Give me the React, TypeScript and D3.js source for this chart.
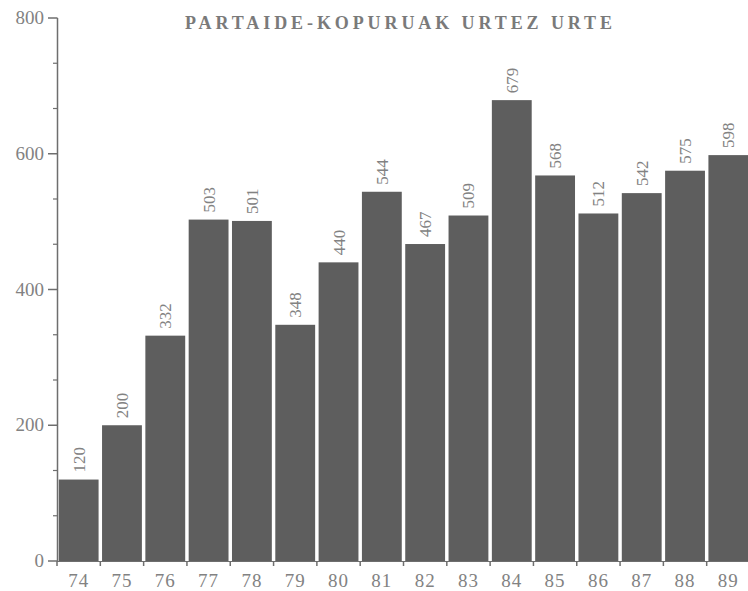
import React, { useEffect, useRef } from "react";
import * as d3 from "d3";

const years = ["74", "75", "76", "77", "78", "79", "80", "81", "82", "83", "84", "85", "86", "87", "88", "89"];
const members = [120, 200, 332, 503, 501, 348, 440, 544, 467, 509, 679, 568, 512, 542, 575, 598];
const yTicks = [0, 200, 400, 600, 800];
const title = "PARTAIDE-KOPURUAK URTEZ URTE";

const W = 748;
const H = 591;

const App: React.FC = () => {
  const svgRef = useRef<SVGSVGElement>(null);

  useEffect(() => {
    if (!svgRef.current) return;
    const svg = d3.select(svgRef.current);
    svg.selectAll("*").remove();

    const font = "'Liberation Serif', 'Times New Roman', serif";
    const textColor = "#828282";
    const axisColor = "#6e6e6e";
    const barColor = "#5e5e5e";

    const x = d3
      .scaleBand<string>()
      .domain(years)
      .range([57, 750])
      .paddingInner(0.08)
      .paddingOuter(0.04);

    const y = d3.scaleLinear().domain([0, 800]).range([561, 18]);

    // bars
    svg
      .append("g")
      .selectAll("rect")
      .data(years)
      .enter()
      .append("rect")
      .attr("x", (d) => x(d) ?? 0)
      .attr("y", (_d, i) => y(members[i]))
      .attr("width", x.bandwidth())
      .attr("height", (_d, i) => y(0) - y(members[i]))
      .attr("fill", barColor);

    // value labels, rotated
    svg
      .append("g")
      .selectAll("text")
      .data(years)
      .enter()
      .append("text")
      .attr("transform", (d, i) => {
        const cx = (x(d) ?? 0) + x.bandwidth() / 2 + 6;
        return `translate(${cx},${y(members[i]) - 7}) rotate(-90)`;
      })
      .attr("text-anchor", "start")
      .style("font-family", font)
      .style("font-size", "17px")
      .style("fill", textColor)
      .text((_d, i) => String(members[i]));

    // y axis
    const ya = svg.append("g");
    ya.append("line")
      .attr("x1", 57.5)
      .attr("x2", 57.5)
      .attr("y1", y(800))
      .attr("y2", y(0))
      .attr("stroke", axisColor)
      .attr("stroke-width", 1.5);

    const minor = d3.range(0, 800, 200 / 3).filter((v) => v % 200 !== 0);
    ya.selectAll(".minor")
      .data(minor)
      .enter()
      .append("line")
      .attr("x1", 53)
      .attr("x2", 57.5)
      .attr("y1", (d) => y(d))
      .attr("y2", (d) => y(d))
      .attr("stroke", axisColor)
      .attr("stroke-width", 1.2);

    ya.selectAll(".major")
      .data(yTicks)
      .enter()
      .append("line")
      .attr("x1", 48)
      .attr("x2", 57.5)
      .attr("y1", (d) => y(d))
      .attr("y2", (d) => y(d))
      .attr("stroke", axisColor)
      .attr("stroke-width", 1.5);

    ya.selectAll("text")
      .data(yTicks)
      .enter()
      .append("text")
      .attr("x", 44)
      .attr("y", (d) => y(d) + 6)
      .attr("text-anchor", "end")
      .style("font-family", font)
      .style("font-size", "19px")
      .style("fill", textColor)
      .text((d) => String(d));

    // x axis
    const xa = svg.append("g");
    xa.append("line")
      .attr("x1", 57)
      .attr("x2", 750)
      .attr("y1", 561.5)
      .attr("y2", 561.5)
      .attr("stroke", axisColor)
      .attr("stroke-width", 1.2);

    const step = x.step();
    const bounds = years.map((d) => (x(d) ?? 0) - (step * x.paddingInner()) / 2);
    xa.selectAll(".tick")
      .data(bounds)
      .enter()
      .append("line")
      .attr("x1", (d) => d)
      .attr("x2", (d) => d)
      .attr("y1", 561)
      .attr("y2", 566)
      .attr("stroke", axisColor)
      .attr("stroke-width", 1.5);

    xa.selectAll("text")
      .data(years)
      .enter()
      .append("text")
      .attr("x", (d) => (x(d) ?? 0) + x.bandwidth() / 2)
      .attr("y", 587)
      .attr("text-anchor", "middle")
      .style("font-family", font)
      .style("font-size", "19px")
      .style("letter-spacing", "1px")
      .style("fill", textColor)
      .text((d) => d);

    // title
    svg
      .append("text")
      .attr("x", 185)
      .attr("y", 29)
      .attr("textLength", 427)
      .attr("lengthAdjust", "spacing")
      .style("font-family", font)
      .style("font-size", "18px")
      .style("font-weight", "bold")
      .style("fill", "#7a7a7a")
      .text(title);
  }, []);

  return (
    <svg
      ref={svgRef}
      width={W}
      height={H}
      style={{ position: "absolute", left: 0, top: 0, background: "#fff" }}
    ></svg>
  );
};

export default App;
